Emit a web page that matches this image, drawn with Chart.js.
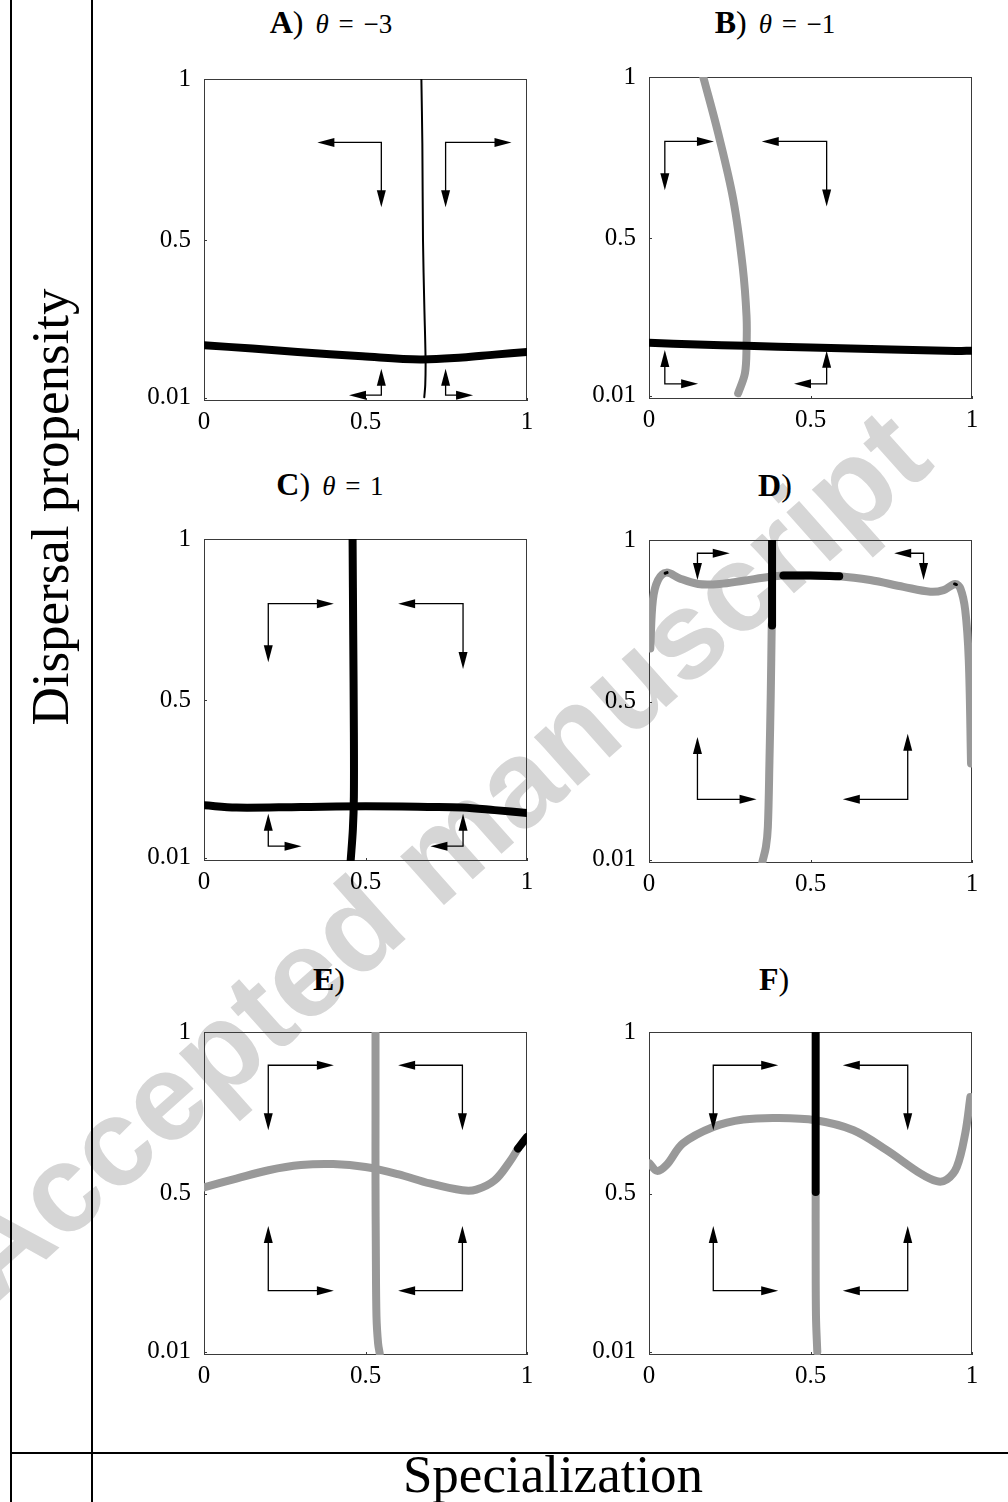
<!DOCTYPE html>
<html>
<head>
<meta charset="utf-8">
<script src="https://cdn.jsdelivr.net/npm/chart.js@4.4.1/dist/chart.umd.min.js"></script>
<style>
  html, body { margin: 0; padding: 0; background: #fff; }
  #page { position: relative; width: 1008px; height: 1502px; overflow: hidden; background: #fff; }
  .wm { position: absolute; left: -5px; top: 1200px; font: bold 124px "Liberation Sans", Arial, sans-serif;
        line-height: 124px; color: #d6d6d6; white-space: nowrap; transform-origin: 0 105px; transform: rotate(-41.7deg); }
  canvas { position: absolute; }
  .rule { position: absolute; background: #000; }
  .ttl { position: absolute; width: 260px; margin-left: -130px; text-align: center; white-space: nowrap;
         font-family: "Liberation Serif", "DejaVu Serif", serif; font-size: 32px; line-height: 40px; color: #000; }
  .ttl .m { font-size: 27px; margin-left: 12px; word-spacing: 3px; }
  .axt { position: absolute; font-family: "Liberation Serif", "DejaVu Serif", serif; font-size: 53px;
         line-height: 60px; color: #000; white-space: nowrap; }
</style>
</head>
<body>
<div id="page">
  <div class="wm">Accepted manuscript</div>

  <div class="rule" style="left:10px; top:0; width:2px; height:1502px;"></div>
  <div class="rule" style="left:91px; top:0; width:2px; height:1502px;"></div>
  <div class="rule" style="left:10px; top:1452px; width:998px; height:2px;"></div>

  <div class="axt" id="ylab" style="left:50px; top:507px; transform: translate(-50%,-50%) rotate(-90deg);">Dispersal propensity</div>
  <div class="axt" id="xlab" style="left:553px; top:1444px; transform: translateX(-50%);">Specialization</div>

  <div class="ttl" style="left:331px; top:2px;"><b>A</b>)<span class="m"><i>θ</i> = −3</span></div>
  <div class="ttl" style="left:775px; top:2px;"><b>B</b>)<span class="m"><i>θ</i> = −1</span></div>
  <div class="ttl" style="left:330px; top:464px;"><b>C</b>)<span class="m"><i>θ</i> = 1</span></div>
  <div class="ttl" style="left:775px; top:465px;"><b>D</b>)</div>
  <div class="ttl" style="left:329px; top:959px;"><b>E</b>)</div>
  <div class="ttl" style="left:774px; top:959px;"><b>F</b>)</div>
</div>

<script>
// ---- axes ---------------------------------------------------
const xTicks = [0, 0.5, 1];
const xTickLabels = ["0", "0.5", "1"];
const yTicks = [0.01, 0.5, 1];
const yTickLabels = ["0.01", "0.5", "1"];

// ---- nullclines, [specialization, dispersal] ----------------
// A) theta = -3
const aDispBlack = [[0, 0.173], [0.15, 0.163], [0.29, 0.152], [0.49, 0.139], [0.67, 0.129], [0.8, 0.135], [0.9, 0.144], [1, 0.152]];
const aSpecThin  = [[0.673, 1], [0.676, 0.8], [0.678, 0.5], [0.682, 0.3], [0.686, 0.127], [0.685, 0.05], [0.682, 0.012]];
// B) theta = -1
const bDispBlack = [[0, 0.175], [0.15, 0.169], [0.3, 0.165], [0.5, 0.16], [0.75, 0.154], [0.95, 0.149], [1, 0.15]];
const bSpecGrey  = [[0.168, 1], [0.214, 0.826], [0.261, 0.619], [0.29, 0.411], [0.302, 0.256], [0.302, 0.163], [0.297, 0.08], [0.276, 0.018]];
// C) theta = 1
const cSpecBlack = [[0.46, 1], [0.462, 0.7], [0.464, 0.4], [0.464, 0.2], [0.461, 0.1], [0.454, 0.0]];
const cDispBlack = [[0, 0.173], [0.1, 0.166], [0.3, 0.168], [0.5, 0.17], [0.7, 0.168], [0.8, 0.166], [0.9, 0.158], [1, 0.149]];
// D)
const dDispGrey  = [[0.004, 0.664], [0.012, 0.814], [0.028, 0.876], [0.054, 0.899], [0.095, 0.881], [0.152, 0.864], [0.219, 0.864],
                    [0.292, 0.874], [0.374, 0.886], [0.416, 0.89], [0.5, 0.89], [0.589, 0.888], [0.685, 0.876], [0.788, 0.855],
                    [0.871, 0.84], [0.912, 0.845], [0.948, 0.864], [0.964, 0.85], [0.979, 0.783], [0.99, 0.628], [0.997, 0.308]];
const dDispBlack = [[0.416, 0.89], [0.5, 0.89], [0.589, 0.888]];
const dDispTipsL = [[0.05, 0.897], [0.056, 0.899]];
const dDispTipsR = [[0.946, 0.864], [0.952, 0.862]];
const dSpecGrey  = [[0.38, 0.74], [0.377, 0.525], [0.373, 0.318], [0.368, 0.112], [0.362, 0.05], [0.351, 0.003]];
const dSpecBlack = [[0.381, 1], [0.381, 0.735]];
// E)
const eSpecGrey  = [[0.531, 1], [0.531, 0.737], [0.531, 0.531], [0.532, 0.325], [0.534, 0.119], [0.539, 0.036], [0.544, 0.005]];
const eDispGrey  = [[0, 0.519], [0.1, 0.546], [0.2, 0.572], [0.3, 0.588], [0.4, 0.591], [0.5, 0.582], [0.6, 0.56], [0.7, 0.531],
                    [0.8, 0.51], [0.843, 0.512], [0.9, 0.541], [0.946, 0.598], [0.972, 0.639]];
const eDispBlack = [[0.972, 0.639], [1, 0.675]];
// F)
const fSpecBlack = [[0.516, 1], [0.516, 0.505]];
const fSpecGrey  = [[0.516, 0.5], [0.516, 0.325], [0.517, 0.119], [0.521, 0.01]];
const fDispGrey  = [[0.002, 0.593], [0.025, 0.57], [0.054, 0.588], [0.105, 0.655], [0.199, 0.706], [0.292, 0.729], [0.395, 0.734],
                    [0.516, 0.727], [0.633, 0.696], [0.736, 0.634], [0.84, 0.562], [0.891, 0.538], [0.922, 0.543], [0.953, 0.582],
                    [0.979, 0.686], [0.995, 0.799]];

// ---- direction arrows: [cornerX, cornerY, horizontalTipX, verticalTipY]
const aArrows = [[0.549, 0.803, 0.351, 0.602], [0.748, 0.803, 0.952, 0.602], [0.549, 0.018, 0.449, 0.10], [0.748, 0.018, 0.833, 0.10]];
const bArrows = [[0.049, 0.80, 0.201, 0.648], [0.55, 0.80, 0.349, 0.598], [0.049, 0.047, 0.152, 0.152], [0.55, 0.047, 0.449, 0.15]];
const cArrows = [[0.199, 0.799, 0.402, 0.617], [0.802, 0.799, 0.601, 0.596], [0.199, 0.046, 0.302, 0.147], [0.802, 0.046, 0.701, 0.147]];
const dArrows = [[0.15, 0.959, 0.25, 0.876], [0.85, 0.959, 0.759, 0.876], [0.15, 0.197, 0.333, 0.39], [0.801, 0.197, 0.60, 0.40]];
const eArrows = [[0.199, 0.897, 0.402, 0.696], [0.80, 0.897, 0.601, 0.696], [0.199, 0.199, 0.402, 0.399], [0.80, 0.199, 0.601, 0.399]];
const fArrows = [[0.199, 0.897, 0.40, 0.696], [0.801, 0.897, 0.60, 0.696], [0.199, 0.199, 0.40, 0.399], [0.801, 0.199, 0.60, 0.399]];

// ---- styling / layout ---------------------------------------
const BLACK = "#000000";
const GREY = "#999999";
const FONT = "'Liberation Serif', 'DejaVu Serif', serif";
const Y_AXIS_W = 74, X_AXIS_H = 40, PAD = 18;

// plot area rectangles on the page: [left, top, right, bottom]
const panels = [
  { area: [204, 79, 527, 401], arrows: aArrows, lines: [[aSpecThin, BLACK, 2], [aDispBlack, BLACK, 8]] },
  { area: [649, 77, 972, 399], arrows: bArrows, lines: [[bDispBlack, BLACK, 8], [bSpecGrey, GREY, 8]] },
  { area: [204, 539, 527, 861], arrows: cArrows, lines: [[cSpecBlack, BLACK, 8], [cDispBlack, BLACK, 8]] },
  { area: [649, 540, 972, 863], arrows: dArrows, lines: [[dSpecBlack, BLACK, 8], [dDispBlack, BLACK, 8], [dDispTipsL, BLACK, 3],
                                                         [dDispTipsR, BLACK, 3], [dSpecGrey, GREY, 8], [dDispGrey, GREY, 8]] },
  { area: [204, 1032, 527, 1355], arrows: eArrows, lines: [[eDispBlack, BLACK, 8], [eSpecGrey, GREY, 8], [eDispGrey, GREY, 8]] },
  { area: [649, 1032, 972, 1355], arrows: fArrows, lines: [[fSpecBlack, BLACK, 8], [fSpecGrey, GREY, 8], [fDispGrey, GREY, 8]] }
];

// frame box + small inward ticks, drawn under the curves
const framePlugin = {
  id: "frame",
  beforeDatasetsDraw(chart) {
    const { ctx, chartArea: a, scales } = chart;
    ctx.save();
    ctx.strokeStyle = "#3a3a3a";
    ctx.lineWidth = 1;
    ctx.strokeRect(a.left + 0.5, a.top + 0.5, a.right - a.left - 1, a.bottom - a.top - 1);
    ctx.beginPath();
    xTicks.forEach(v => {
      const px = Math.round(scales.x.getPixelForValue(v)) + 0.5;
      ctx.moveTo(px, a.bottom); ctx.lineTo(px, a.bottom - 3);
    });
    yTicks.forEach(v => {
      const py = Math.round(scales.y.getPixelForValue(v)) + 0.5;
      ctx.moveTo(a.left, py); ctx.lineTo(a.left + 3, py);
    });
    ctx.stroke();
    ctx.restore();
  }
};

function arrowHead(ctx, tx, ty, dx, dy) {
  const len = 17, half = 4.5;
  const bx = tx - dx * len, by = ty - dy * len;
  ctx.beginPath();
  ctx.moveTo(tx, ty);
  ctx.lineTo(bx - dy * half, by + dx * half);
  ctx.lineTo(bx + dy * half, by - dx * half);
  ctx.closePath();
  ctx.fill();
}

// L-shaped direction arrows, positioned through the chart scales
const arrowPlugin = {
  id: "arrows",
  afterDatasetsDraw(chart, args, opts) {
    const { ctx, scales } = chart;
    ctx.save();
    ctx.strokeStyle = "#000";
    ctx.fillStyle = "#000";
    ctx.lineWidth = 1.3;
    (opts.list || []).forEach(([cx, cy, hx, vy]) => {
      const px = scales.x.getPixelForValue(cx), py = scales.y.getPixelForValue(cy);
      const phx = scales.x.getPixelForValue(hx), pvy = scales.y.getPixelForValue(vy);
      const sx = Math.sign(phx - px), sy = Math.sign(pvy - py);
      ctx.beginPath();
      ctx.moveTo(phx - sx * 14, py);
      ctx.lineTo(px, py);
      ctx.lineTo(px, pvy - sy * 14);
      ctx.stroke();
      arrowHead(ctx, phx, py, sx, 0);
      arrowHead(ctx, px, pvy, 0, sy);
    });
    ctx.restore();
  }
};

const page = document.getElementById("page");

panels.forEach(p => {
  const [L, T, R, B] = p.area;
  const canvas = document.createElement("canvas");
  const w = (R - L) + Y_AXIS_W + PAD, h = (B - T) + PAD + X_AXIS_H;
  canvas.width = w; canvas.height = h;
  canvas.style.width = w + "px";
  canvas.style.height = h + "px";
  page.appendChild(canvas);

  const datasets = p.lines.map(([pts, color, width], i) => ({
    data: pts.map(([x, y]) => ({ x, y })),
    showLine: true,
    borderColor: color,
    borderWidth: width,
    borderCapStyle: "round",
    borderJoinStyle: "round",
    pointRadius: 0,
    tension: 0.35,
    clip: 0,
    order: i
  }));

  const chart = new Chart(canvas, {
    type: "scatter",
    data: { datasets },
    options: {
      responsive: false,
      maintainAspectRatio: false,
      animation: false,
      layout: { padding: { top: PAD, right: PAD, left: 0, bottom: 0 } },
      plugins: { legend: { display: false }, tooltip: { enabled: false }, arrows: { list: p.arrows } },
      scales: {
        x: {
          type: "linear", min: 0, max: 1,
          grid: { display: false, drawTicks: false },
          border: { display: false },
          afterBuildTicks: s => { s.ticks = xTicks.map(v => ({ value: v })); },
          afterFit: s => { s.height = X_AXIS_H; },
          ticks: {
            autoSkip: false, maxRotation: 0, padding: 6, color: "#000",
            font: { family: FONT, size: 25 },
            callback: v => xTickLabels[xTicks.indexOf(v)]
          }
        },
        y: {
          type: "linear", min: 0, max: 1,
          grid: { display: false, drawTicks: false },
          border: { display: false },
          afterBuildTicks: s => { s.ticks = yTicks.map(v => ({ value: v })); },
          afterFit: s => { s.width = Y_AXIS_W; },
          ticks: {
            autoSkip: false, padding: 13, color: "#000",
            font: { family: FONT, size: 25 },
            callback: v => yTickLabels[yTicks.indexOf(v)]
          }
        }
      }
    },
    plugins: [framePlugin, arrowPlugin]
  });

  // grow the canvas until the plot area has the wanted size, then place it
  let ca = chart.chartArea;
  const dw = Math.round((R - L) - (ca.right - ca.left));
  const dh = Math.round((B - T) - (ca.bottom - ca.top));
  if (dw || dh) {
    chart.resize(w + dw, h + dh);
    ca = chart.chartArea;
  }
  canvas.style.left = Math.round(L - ca.left) + "px";
  canvas.style.top = Math.round(T - ca.top) + "px";
});
</script>
</body>
</html>
